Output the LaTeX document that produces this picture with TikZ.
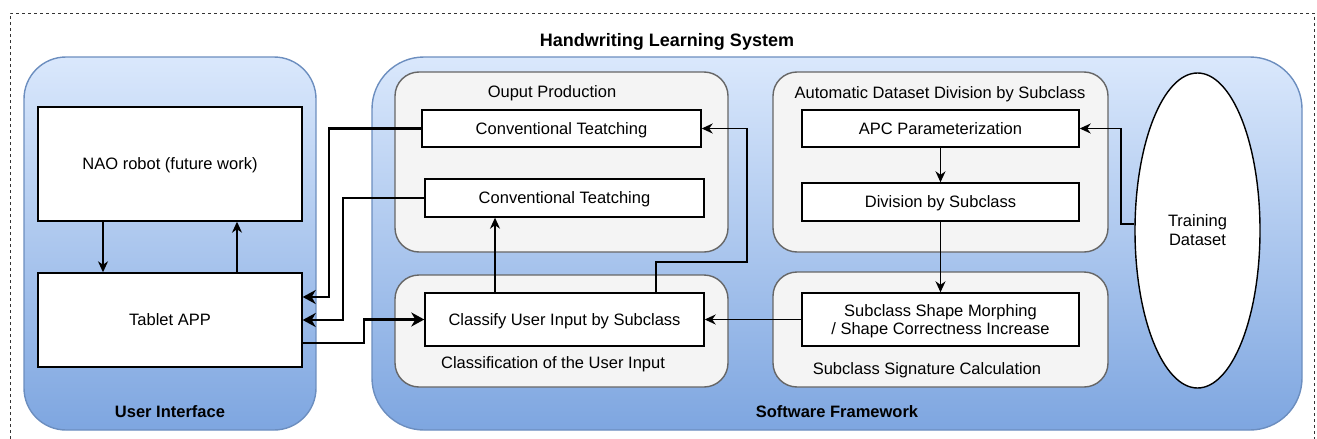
\documentclass[tikz,border=0pt]{standalone}
\usepackage{fontspec}
\setmainfont{Liberation Sans}
\usetikzlibrary{arrows.meta,shapes.geometric,calc}
\definecolor{bluetop}{HTML}{DAE8FC}
\definecolor{bluebot}{HTML}{7EA6E0}
\definecolor{blueline}{HTML}{6C8EBF}
\definecolor{greyfill}{HTML}{F4F4F4}
\definecolor{greyline}{HTML}{666666}
\definecolor{dashline}{HTML}{333333}
\newcommand\boxfont{\fontsize{16.5}{19}\selectfont}
\newcommand\boldfont{\fontsize{16.5}{19}\selectfont\bfseries}
\newcommand\headfont{\fontsize{18}{21}\selectfont\bfseries}
\tikzset{
  tier/.style={rounded corners=#1, draw=blueline, line width=1.4pt,
    top color=bluetop, bottom color=bluebot, inner sep=0pt},
  panel/.style={rounded corners=24pt, draw=greyline, fill=greyfill,
    line width=1.4pt, inner sep=0pt},
  blockbox/.style={draw=black, fill=white, line width=1.4pt, font=\boxfont,
    align=center, inner sep=0pt, text depth=0pt},
  lbl/.style={font=\boxfont, inner sep=0pt, yshift=-1.5pt},
  link/.style={line width=1.4pt, -{Stealth[length=11pt,width=10pt,inset=3.5pt]}},
  heavylink/.style={line width=2.9pt, -{Stealth[length=13pt,width=14pt,inset=4pt]}}
}
\begin{document}
\begin{tikzpicture}[x=1pt,y=-1pt]
\useasboundingbox (0,0) rectangle (1317,439);
% system frame
\draw[dashline, line width=1pt, dash pattern=on 3pt off 3pt]
  (10,439) -- (10,13) -- (1314,13) -- (1314,439);
\node[font=\headfont, inner sep=0pt, yshift=-1pt] (systitle) at (667,41) {Handwriting Learning System};

% tiers
\node[tier=42pt, minimum width=292pt, minimum height=373pt] (ui) at (170,243.5) {};
\node[tier=52pt, minimum width=930pt, minimum height=373pt] (sf) at (837,243.5) {};
\node[font=\boldfont, inner sep=0pt, yshift=-1pt] (uititle) at (170,411) {User Interface};
\node[font=\boldfont, inner sep=0pt, yshift=-1pt] (sftitle) at (837,411) {Software Framework};

% user interface
\node[blockbox, minimum width=264pt, minimum height=114pt] (nao) at (170,164) {NAO robot (future work)};
\node[blockbox, minimum width=264pt, minimum height=94pt] (tab) at (170,320) {Tablet APP};

% output production
\node[panel, minimum width=333pt, minimum height=180pt] (outp) at (561.5,162) {};
\node[lbl] (outtitle) at (552,92) {Ouput Production};
\node[blockbox, minimum width=279pt, minimum height=37pt] (conv1) at (561.5,128.5) {Conventional Teatching};
\node[blockbox, minimum width=279pt, minimum height=38pt] (conv2) at (564.5,198) {Conventional Teatching};

% classification of the user input
\node[panel, minimum width=333pt, minimum height=112pt] (clsp) at (561.5,331) {};
\node[lbl] (clstitle) at (553,363) {Classification of the User Input};
\node[blockbox, minimum width=279pt, minimum height=53pt] (cls) at (564.5,319.5) {Classify User Input by Subclass};

% automatic dataset division
\node[panel, minimum width=335pt, minimum height=180pt] (autop) at (940.5,162) {};
\node[lbl] (autotitle) at (940,93) {Automatic Dataset Division by Subclass};
\node[blockbox, minimum width=277pt, minimum height=37pt] (apc) at (940.5,128.5) {APC Parameterization};
\node[blockbox, minimum width=277pt, minimum height=38pt] (div) at (940.5,202) {Division by Subclass};

% subclass signature calculation
\node[panel, minimum width=335pt, minimum height=115pt] (sigp) at (940.5,329.5) {};
\node[lbl] (sigtitle) at (927,369) {Subclass Signature Calculation};
\node[blockbox, minimum width=277pt, minimum height=53pt] (morph) at (940.5,319.5)
  {Subclass Shape Morphing\\[-1pt]/ Shape Correctness Increase};

% training data
\node[ellipse, draw=black, fill=white, line width=1.4pt, minimum width=125pt,
  minimum height=315pt, inner sep=0pt, align=center, font=\boxfont] (ell) at (1197.5,230.5)
  {Training\\Dataset};

% connectors inside the user interface
\coordinate (xa) at (103,0);
\coordinate (xb) at (237,0);
\draw[link] (nao.south -| xa) -- (tab.north -| xa);
\draw[link] (tab.north -| xb) -- (nao.south -| xb);

% connectors between the tablet and the framework
\coordinate (ka) at (329,297);
\coordinate (kb) at (343,0);
\coordinate (kc) at (364,343);
\draw[heavylink] (conv1.west) -| (ka) -- (tab.east |- ka);
\draw[heavylink] (conv2.west) -| (kb |- tab.east) -- (tab.east);
\draw[heavylink] (tab.east |- kc) -- (kc) |- (cls.west);

% connectors inside the framework
\coordinate (xc) at (495,0);
\coordinate (kd) at (656,262);
\coordinate (ke) at (747,262);
\coordinate (kf) at (1121,0);
\draw[link] (cls.north -| xc) -- (conv2.south -| xc);
\draw[link] (cls.north -| kd) -- (kd) -- (ke) |- (conv1.east);
\draw[link] (apc.south) -- (div.north);
\draw[link] (div.south) -- (morph.north);
\draw[link] (morph.west) -- (cls.east);
\draw[link] (ell.174) -- (ell.174 -| kf) |- (apc.east);
\end{tikzpicture}
\end{document}
